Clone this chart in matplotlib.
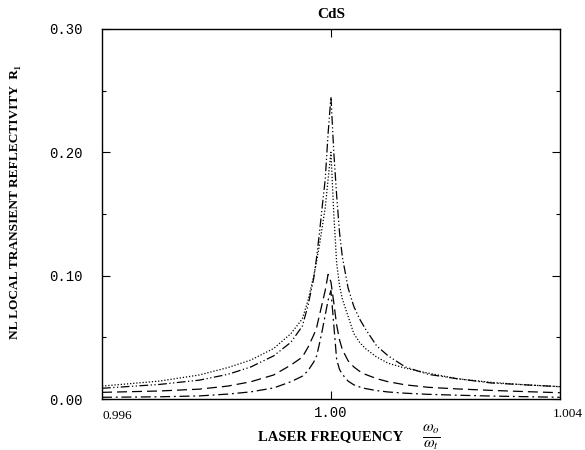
import matplotlib
matplotlib.use("Agg")
import matplotlib.pyplot as plt
from matplotlib.ticker import MultipleLocator

# laser frequency w0/wt (denser near the resonance)
omega = [0.9960, 0.9970, 0.9977, 0.9982, 0.9986, 0.9990, 0.9993, 0.9995, 0.9996,
         0.9997, 0.99975, 0.9998, 0.99985, 0.9999, 0.99995, 1.0000, 1.00005,
         1.0001, 1.00015, 1.0002, 1.0003, 1.0004, 1.0005, 1.0006, 1.0008, 1.0010,
         1.0013, 1.0017, 1.0022, 1.0028, 1.0034, 1.0040]

# dash-dot-dot curve
r_ddot = [0.0087, 0.0118, 0.0153, 0.0200, 0.0260, 0.0350, 0.0460, 0.0590, 0.0760,
          0.0980, 0.1150, 0.1350, 0.1570, 0.1780, 0.2150, 0.2450, 0.2000,
          0.1650, 0.1350, 0.1150, 0.0900, 0.0750, 0.0650, 0.0570, 0.0430, 0.0350,
          0.0260, 0.0200, 0.0165, 0.0130, 0.0115, 0.0100]

# dotted curve
r_dot = [0.0105, 0.0145, 0.0195, 0.0255, 0.0316, 0.0410, 0.0530, 0.0650, 0.0800,
         0.1000, 0.1120, 0.1250, 0.1400, 0.1550, 0.1780, 0.2000, 0.1500,
         0.1100, 0.0920, 0.0810, 0.0670, 0.0530, 0.0460, 0.0410, 0.0340, 0.0290,
         0.0250, 0.0210, 0.0165, 0.0135, 0.0115, 0.0100]

# dashed curve
r_dash = [0.0054, 0.0065, 0.0080, 0.0105, 0.0140, 0.0195, 0.0275, 0.0340, 0.0420,
          0.0520, 0.0580, 0.0680, 0.0780, 0.0880, 0.1010, 0.0950, 0.0780,
          0.0600, 0.0480, 0.0400, 0.0310, 0.0260, 0.0225, 0.0200, 0.0165, 0.0140,
          0.0115, 0.0095, 0.0082, 0.0070, 0.0060, 0.0051]

# dash-dot curve
r_dashdot = [0.0014, 0.0018, 0.0025, 0.0040, 0.0058, 0.0090, 0.0140, 0.0185, 0.0230,
             0.0300, 0.0350, 0.0450, 0.0560, 0.0680, 0.0800, 0.0880, 0.0600,
             0.0320, 0.0240, 0.0200, 0.0145, 0.0115, 0.0098, 0.0085, 0.0068, 0.0057,
             0.0047, 0.0038, 0.0031, 0.0024, 0.0019, 0.0014]

serif = ["Liberation Serif", "DejaVu Serif"]
mono = ["Liberation Mono", "DejaVu Sans Mono"]

fig = plt.figure(figsize=(5.85, 4.5), dpi=100)
ax = fig.add_axes([0.1744, 0.1133, 0.7826, 0.8223])

lw = 0.9
ax.plot(omega, r_ddot, color="black", lw=lw, linestyle=(0, (7, 2, 1, 2, 1, 2)))
ax.plot(omega, r_dot, color="black", lw=lw, linestyle=(0, (1, 1.5)))
ax.plot(omega, r_dash, color="black", lw=lw, linestyle=(0, (8, 4)))
ax.plot(omega, r_dashdot, color="black", lw=lw, linestyle=(0, (8, 3, 1.5, 3)))

ax.set_xlim(0.996, 1.004)
ax.set_ylim(0.0, 0.30)

ax.yaxis.set_minor_locator(MultipleLocator(0.05))
ax.set_xticks([1.0])
ax.set_xticklabels(["1.00"], family=mono, fontsize=10)
ax.set_yticks([0.0, 0.1, 0.2, 0.3])
ax.set_yticklabels(["0.00", "0.10", "0.20", "0.30"], family=mono, fontsize=10)
ax.tick_params(which="both", direction="in", top=True, right=True, width=0.8)
ax.tick_params(which="major", length=6)
ax.tick_params(which="minor", length=3)
ax.tick_params(axis="x", which="major", pad=5)
ax.tick_params(axis="y", which="major", pad=14)
for s in ax.spines.values():
    s.set_linewidth(1.0)

# end labels of the frequency axis
ax.text(0.996, -0.009, "0.996", family=serif, fontsize=9.5, ha="left", va="top")
fig.text(0.997, 0.1133 - 0.02, "1.004", family=serif, fontsize=9.5,
         ha="right", va="top")

ax.set_title("CdS", family=serif, fontweight="bold", fontsize=11, pad=8)
fig.text(0.026, 0.551, "NL LOCAL TRANSIENT REFLECTIVITY  R\u2081", family=serif,
         fontweight="bold", fontsize=9.6, rotation=90, ha="center", va="center")
fig.text(0.565, 0.029, "LASER FREQUENCY", family=serif, fontweight="bold",
         fontsize=10.5, ha="center", va="center")
fig.text(0.738, 0.029, r"$\frac{\omega_o}{\omega_t}$", fontsize=16,
         ha="center", va="center", math_fontfamily="stix")

fig.savefig("out.png", dpi=100)
